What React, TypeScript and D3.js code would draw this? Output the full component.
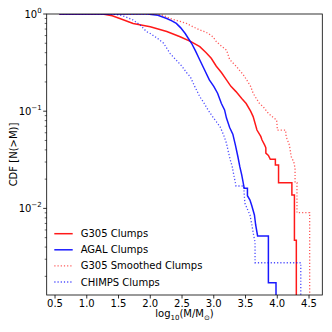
import React from 'react'
import * as d3 from 'd3'

// log10 mass, N(>M) fraction (tail steps given as corners)
const g305Clumps: [number, number][] = [
    [0.57, 1], [1.25, 1.0], [1.4, 0.96], [1.52, 0.9], [1.73, 0.8], [2.0, 0.74],
    [2.26, 0.66], [2.47, 0.584], [2.64, 0.519], [2.78, 0.461], [2.88, 0.4],
    [2.96, 0.35], [3.04, 0.29], [3.12, 0.25], [3.2, 0.21], [3.27, 0.18],
    [3.35, 0.159], [3.44, 0.135], [3.51, 0.12], [3.58, 0.1], [3.62, 0.088],
    [3.68, 0.064], [3.74, 0.055], [3.76, 0.0505], [3.8, 0.045], [3.82, 0.042],
    [3.82, 0.037], [3.86, 0.035], [3.89, 0.032], [3.97, 0.032], [3.97, 0.028],
    [4.02, 0.028], [4.02, 0.0184], [4.23, 0.0184], [4.23, 0.0137], [4.27, 0.0137],
    [4.27, 0.0047], [4.3, 0.0047], [4.3, 0.0001],
]

const agalClumps: [number, number][] = [
    [0.57, 1], [1.95, 1], [2.12, 0.97], [2.26, 0.9], [2.34, 0.85], [2.41, 0.8],
    [2.48, 0.72], [2.55, 0.63], [2.6, 0.56], [2.65, 0.5], [2.71, 0.42],
    [2.78, 0.336], [2.85, 0.27], [2.93, 0.21], [3.0, 0.18], [3.06, 0.153],
    [3.12, 0.12], [3.17, 0.103], [3.2, 0.085], [3.25, 0.068], [3.3, 0.058],
    [3.34, 0.045], [3.38, 0.034], [3.41, 0.0269], [3.44, 0.0221], [3.48, 0.0161],
    [3.53, 0.0161], [3.53, 0.0135], [3.57, 0.0122], [3.6, 0.0106], [3.64, 0.00855],
    [3.66, 0.00675], [3.69, 0.0052], [3.86, 0.0052], [3.86, 0.00172], [3.98, 0.00172],
    [3.98, 0.0001],
]

const g305Smoothed: [number, number][] = [
    [0.57, 1], [2.1, 1], [2.2, 0.97], [2.35, 0.88], [2.47, 0.84], [2.57, 0.8],
    [2.67, 0.74], [2.77, 0.69], [2.85, 0.66], [2.91, 0.633], [2.99, 0.58],
    [3.04, 0.52], [3.1, 0.48], [3.2, 0.426], [3.25, 0.34], [3.31, 0.31],
    [3.36, 0.287], [3.4, 0.265], [3.46, 0.24], [3.52, 0.209], [3.58, 0.18],
    [3.62, 0.153], [3.67, 0.135], [3.72, 0.12], [3.78, 0.111], [3.86, 0.095],
    [3.93, 0.087], [3.99, 0.081], [4.0, 0.0667], [4.0, 0.064], [4.13, 0.064],
    [4.14, 0.0547], [4.19, 0.045], [4.22, 0.034], [4.26, 0.03], [4.28, 0.0259],
    [4.28, 0.0184], [4.31, 0.0184], [4.31, 0.00903], [4.51, 0.00903], [4.51, 0.0001],
]

const chimpsClumps: [number, number][] = [
    [0.57, 1], [1.35, 1], [1.45, 0.99], [1.52, 0.977], [1.62, 0.93], [1.73, 0.868],
    [1.84, 0.77], [1.94, 0.66], [2.0, 0.63], [2.1, 0.57], [2.21, 0.5], [2.31, 0.394],
    [2.4, 0.34], [2.5, 0.29], [2.57, 0.25], [2.63, 0.226], [2.7, 0.18], [2.78, 0.141],
    [2.85, 0.12], [2.91, 0.103], [2.97, 0.09], [3.04, 0.078], [3.1, 0.069],
    [3.15, 0.058], [3.2, 0.0468], [3.23, 0.038], [3.26, 0.0315], [3.29, 0.027],
    [3.31, 0.023], [3.35, 0.017], [3.47, 0.017], [3.49, 0.0113], [3.53, 0.0098],
    [3.57, 0.00855], [3.6, 0.00675], [3.63, 0.0052], [3.65, 0.0045], [3.65, 0.00276],
    [4.37, 0.00276], [4.37, 0.0001],
]

const seriesNames = ['G305 Clumps', 'AGAL Clumps', 'G305 Smoothed Clumps', 'CHIMPS Clumps']
const xTicks = [0.5, 1.0, 1.5, 2.0, 2.5, 3.0, 3.5, 4.0, 4.5]
const yTickExps = [0, -1, -2]

export default function App() {
    const width = 332
    const height = 332
    const [top, right, bottom, left] = [14, 9.7, 37, 46.7]

    const x = d3.scaleLinear().domain([0.369, 4.709]).range([left, width - right])
    const y = d3.scaleLog().domain([Math.pow(10, -2.891), 1]).range([height - bottom, top])

    const line = d3
        .line<[number, number]>()
        .x(d => x(d[0]))
        .y(d => y(d[1]))

    const styles = [
        { data: g305Clumps, stroke: '#ff0000', dash: null, opacity: 0.9, lw: 1.5 },
        { data: agalClumps, stroke: '#0000ff', dash: null, opacity: 0.9, lw: 1.5 },
        { data: g305Smoothed, stroke: '#ff0000', dash: '1.2,2', opacity: 0.65, lw: 1.3 },
        { data: chimpsClumps, stroke: '#0000ff', dash: '1.2,2', opacity: 0.7, lw: 1.3 },
    ]

    const minorTicks: number[] = []
    for (let e = -3; e < 0; e++) {
        for (let k = 2; k <= 9; k++) {
            const v = k * Math.pow(10, e)
            if (v >= y.domain()[0] && v <= 1) minorTicks.push(v)
        }
    }

    const font = 'DejaVu Sans, sans-serif'
    const x0 = left
    const x1 = width - right
    const y0 = top
    const y1 = height - bottom

    return (
        <svg
            width={width}
            height={height}
            style={{ position: 'absolute', left: 0, top: 0, background: 'white' }}
            fontFamily={font}
        >
            <defs>
                <clipPath id='plot'>
                    <rect x={x0} y={y0} width={x1 - x0} height={y1 - y0} />
                </clipPath>
            </defs>
            <g clipPath='url(#plot)' fill='none'>
                {styles.map((s, i) => (
                    <path
                        key={seriesNames[i]}
                        d={line(s.data) || ''}
                        stroke={s.stroke}
                        strokeWidth={s.lw}
                        strokeOpacity={s.opacity}
                        strokeDasharray={s.dash || undefined}
                    />
                ))}
            </g>

            {/* spines */}
            <rect x={x0} y={y0} width={x1 - x0} height={y1 - y0} fill='none' stroke='#000' strokeWidth={0.8} />

            {/* x axis */}
            {xTicks.map(t => (
                <g key={t}>
                    <line x1={x(t)} x2={x(t)} y1={y1} y2={y1 + 3.5} stroke='#000' strokeWidth={0.8} />
                    <text x={x(t)} y={y1 + 11.5} fontSize={10} textAnchor='middle'>
                        {t.toFixed(1)}
                    </text>
                </g>
            ))}
            <text x={(x0 + x1) / 2} y={y1 + 22} fontSize={10} textAnchor='middle'>
                log<tspan fontSize={7} dy={2.5}>10</tspan>
                <tspan dy={-2.5}>(M/M</tspan>
                <tspan fontSize={7} dy={2.5}>⊙</tspan>
                <tspan dy={-2.5}>)</tspan>
            </text>

            {/* y axis */}
            {minorTicks.map(t => (
                <line key={t} x1={x0} x2={x0 - 2} y1={y(t)} y2={y(t)} stroke='#000' strokeWidth={0.6} />
            ))}
            {yTickExps.map(e => (
                <g key={e}>
                    <line x1={x0} x2={x0 - 3.5} y1={y(Math.pow(10, e))} y2={y(Math.pow(10, e))} stroke='#000' strokeWidth={0.8} />
                    <text x={x0 - 5} y={y(Math.pow(10, e)) + 3.5} fontSize={10} textAnchor='end'>
                        10
                        <tspan fontSize={7} dy={-4.5}>
                            {e === 0 ? '0' : '\u2212' + Math.abs(e)}
                        </tspan>
                    </text>
                </g>
            ))}
            <text
                transform={`translate(16.5, ${(y0 + y1) / 2}) rotate(-90)`}
                fontSize={10}
                textAnchor='middle'
            >
                CDF [N(&gt;M)]
            </text>

            {/* legend */}
            {styles.map((s, i) => {
                const ly = 233.7 + i * 16.1
                return (
                    <g key={seriesNames[i]}>
                        <line
                            x1={54.3}
                            x2={72.7}
                            y1={ly}
                            y2={ly}
                            stroke={s.stroke}
                            strokeWidth={s.lw}
                            strokeOpacity={s.opacity}
                            strokeDasharray={s.dash || undefined}
                        />
                        <text x={80.7} y={ly + 3.5} fontSize={10}>
                            {seriesNames[i]}
                        </text>
                    </g>
                )
            })}
        </svg>
    )
}
